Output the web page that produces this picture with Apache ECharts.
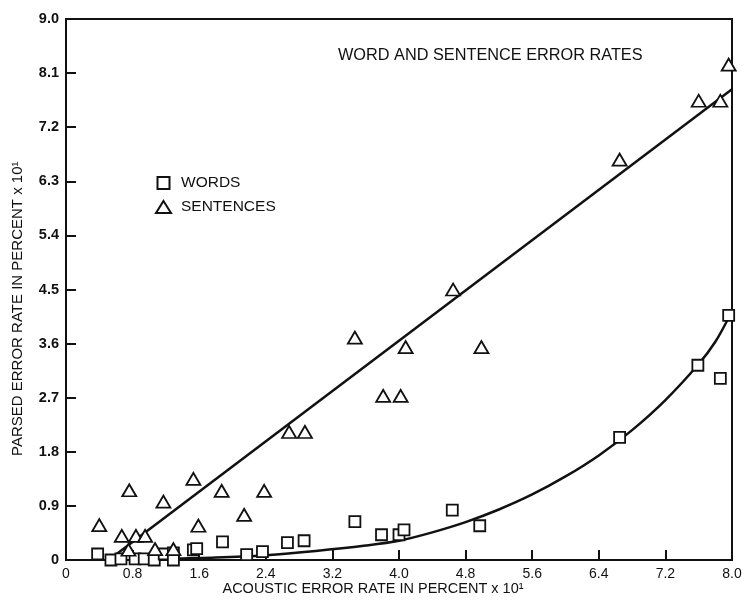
<!DOCTYPE html>
<html>
<head>
<meta charset="utf-8">
<script src="https://cdn.jsdelivr.net/npm/echarts@6/dist/echarts.min.js"></script>
<style>
html,body{margin:0;padding:0;background:#fff;}
#chart{width:746px;height:605px;}
</style>
</head>
<body>
<div id="chart"></div>
<script>
// ---- data ----
const xTickLabels = ['0','0.8','1.6','2.4','3.2','4.0','4.8','5.6','6.4','7.2','8.0'];
const yTickLabels = ['0','0.9','1.8','2.7','3.6','4.5','5.4','6.3','7.2','8.1','9.0'];

const wordsX = [0.38,0.54,0.66,0.83,0.94,1.06,1.18,1.29,1.29,1.53,1.57,1.88,2.17,2.36,2.66,2.86,3.47,3.79,4.00,4.06,4.64,4.97,6.65,7.59,7.86,7.96];
const wordsY = [0.10,0.00,0.02,0.02,0.02,0.00,0.10,0.12,0.00,0.17,0.19,0.30,0.09,0.14,0.29,0.32,0.64,0.42,0.42,0.50,0.83,0.57,2.04,3.24,3.02,4.07];

const sentX = [0.40,0.67,0.76,0.84,0.95,0.75,1.07,1.17,1.29,1.53,1.59,1.87,2.14,2.38,2.68,2.87,3.47,4.08,4.99,4.65,3.81,4.02,6.65,7.60,7.86,7.96];
const sentY = [0.58,0.40,1.16,0.40,0.40,0.17,0.18,0.97,0.18,1.35,0.57,1.15,0.75,1.15,2.13,2.13,3.70,3.54,3.54,4.50,2.73,2.73,6.66,7.64,7.64,8.24];

// fitted curves drawn in the figure
const wordFitX = [1.2,1.8,2.4,3.0,3.6,4.0,4.4,4.8,5.2,5.6,6.0,6.4,6.8,7.2,7.6,7.8,7.96];
const wordFitY = [0.02,0.04,0.08,0.15,0.24,0.32,0.46,0.63,0.84,1.09,1.39,1.74,2.16,2.66,3.26,3.63,4.03];
const sentFitX = [0.6,8.0];
const sentFitY = [0.09,7.83];

const zip = (a,b) => a.map((v,i)=>[v,b[i]]);
const INK = '#111';
const FONT = '"Liberation Sans", Arial, Helvetica, sans-serif';

const chart = echarts.init(document.getElementById('chart'));
chart.setOption({
  backgroundColor:'#fff',
  animation:false,
  textStyle:{fontFamily:FONT,color:INK},
  title:{
    text:'WORD AND SENTENCE ERROR RATES',
    left:333, top:43,
    textStyle:{fontFamily:FONT,fontSize:16.3,fontWeight:'normal',color:INK}
  },
  legend:{
    orient:'vertical', left:150, top:170, itemGap:8,
    itemWidth:15, itemHeight:12, symbolKeepAspect:true,
    textStyle:{fontFamily:FONT,fontSize:15.5,color:INK,padding:[0,0,0,5]},
    data:[{name:'WORDS',icon:'path://M0,0H10V10H0Z'},{name:'SENTENCES',icon:'triangle'}]
  },
  grid:{left:66,right:14,top:19,bottom:45,show:true,borderColor:INK,borderWidth:2,backgroundColor:'transparent'},
  xAxis:{
    type:'value', min:0, max:8, interval:0.8,
    axisLine:{lineStyle:{color:INK,width:2}},
    axisTick:{inside:true,length:10,lineStyle:{color:INK,width:2}},
    splitLine:{show:false},
    axisLabel:{margin:7,fontSize:14,color:INK,fontFamily:FONT,
      formatter:v=>xTickLabels[Math.round(v/0.8)]}
  },
  yAxis:{
    type:'value', min:0, max:9, interval:0.9,
    axisLine:{lineStyle:{color:INK,width:2}},
    axisTick:{inside:true,length:10,lineStyle:{color:INK,width:2}},
    splitLine:{show:false},
    axisLabel:{margin:7,fontSize:14.5,fontWeight:'bold',color:INK,fontFamily:FONT,
      formatter:v=>yTickLabels[Math.round(v/0.9)]}
  },
  graphic:[
    {type:'text',left:'center',x:-19,top:581,
     style:{text:'ACOUSTIC ERROR RATE IN PERCENT x 10¹',fontFamily:FONT,fontSize:14.5,fill:INK}},
    {type:'text',rotation:Math.PI/2,x:10,y:456,
     style:{text:'PARSED ERROR RATE IN PERCENT x 10¹',fontFamily:FONT,fontSize:15,fill:INK}}
  ],
  series:[
    {name:'wordFit',type:'line',data:zip(wordFitX,wordFitY),smooth:0.3,showSymbol:false,
     lineStyle:{color:INK,width:2.5},z:2,silent:true},
    {name:'sentFit',type:'line',data:zip(sentFitX,sentFitY),showSymbol:false,
     lineStyle:{color:INK,width:2.5},z:2,silent:true},
    {name:'WORDS',type:'scatter',symbol:'rect',symbolSize:11,data:zip(wordsX,wordsY),
     itemStyle:{color:'#fff',borderColor:INK,borderWidth:1.8,opacity:1},z:5},
    {name:'SENTENCES',type:'scatter',symbol:'triangle',symbolSize:[14,12],data:zip(sentX,sentY),
     itemStyle:{color:'#fff',borderColor:INK,borderWidth:1.8,opacity:1},z:5}
  ]
});
</script>
</body>
</html>
